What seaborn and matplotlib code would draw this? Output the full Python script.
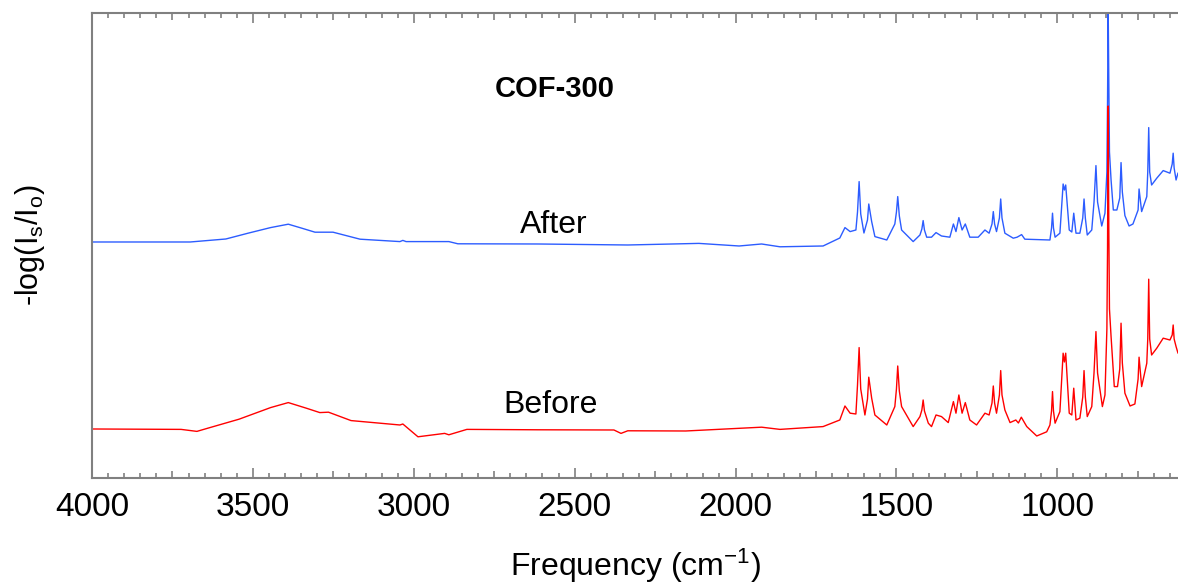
import numpy as np
import pandas as pd
import matplotlib
matplotlib.use('Agg')
import matplotlib.pyplot as plt
from matplotlib.ticker import MultipleLocator, FuncFormatter
import seaborn as sns

# IR spectrum of COF-300 (wavenumber in cm-1, -log(Is/Io) in arb. units)
after_wn = [4000, 3695, 3584, 3515, 3445, 3390, 3348, 3307, 3251, 3167, 3043, 3034, 3024, 2891, 2863,
            2614, 2335, 2114, 1989, 1919, 1862, 1728, 1676, 1660, 1644, 1626, 1621, 1616, 1611, 1601,
            1590, 1586, 1577, 1567, 1530, 1505, 1500, 1496, 1491, 1484, 1448, 1427, 1421, 1417, 1413,
            1406, 1391, 1377, 1360, 1334, 1323, 1315, 1306, 1296, 1286, 1272, 1246, 1225, 1212, 1203,
            1199, 1195, 1189, 1180, 1176, 1172, 1163, 1137, 1125, 1111, 1101, 1023, 1018, 1015, 1012,
            1007, 992, 982, 978, 974, 963, 955, 949, 942, 930, 921, 917, 913, 907, 893,
            886, 880, 875, 862, 852, 846, 844, 842, 840, 838, 833, 826, 815, 806, 802,
            798, 790, 777, 765, 749, 746, 738, 722, 719, 716, 713, 707, 691, 671, 650,
            643, 640, 637, 631, 625]
after_abs = [0.000, 0.000, 0.015, 0.044, 0.072, 0.089, 0.069, 0.049, 0.049, 0.014, 0.002, 0.008, 0.002, 0.002, -0.009,
             -0.010, -0.015, -0.007, -0.020, -0.010, -0.024, -0.020, 0.020, 0.072, 0.052, 0.060, 0.150, 0.302, 0.140, 0.045,
             0.110, 0.190, 0.102, 0.027, 0.010, 0.090, 0.150, 0.227, 0.130, 0.060, 0.002, 0.035, 0.065, 0.107, 0.060,
             0.024, 0.024, 0.047, 0.030, 0.024, 0.090, 0.052, 0.122, 0.060, 0.090, 0.024, 0.024, 0.060, 0.044, 0.090,
             0.152, 0.090, 0.052, 0.120, 0.215, 0.120, 0.044, 0.019, 0.024, 0.037, 0.014, 0.010, 0.070, 0.144, 0.070,
             0.024, 0.044, 0.290, 0.260, 0.285, 0.060, 0.050, 0.144, 0.044, 0.044, 0.120, 0.215, 0.120, 0.035, 0.060,
             0.200, 0.382, 0.200, 0.080, 0.144, 0.350, 0.700, 1.170, 0.800, 0.450, 0.310, 0.160, 0.160, 0.220, 0.397,
             0.250, 0.132, 0.080, 0.090, 0.160, 0.265, 0.152, 0.227, 0.350, 0.572, 0.350, 0.285, 0.319, 0.357, 0.344,
             0.390, 0.444, 0.370, 0.310, 0.345]

before_wn = [4000, 3723, 3674, 3640, 3543, 3445, 3390, 3334, 3292, 3265, 3195, 3043, 3034, 2987, 2904,
             2891, 2835, 2614, 2378, 2356, 2335, 2155, 1919, 1862, 1728, 1676, 1660, 1644, 1626, 1621,
             1616, 1611, 1598, 1590, 1586, 1577, 1567, 1530, 1505, 1500, 1496, 1491, 1484, 1448, 1427,
             1421, 1417, 1413, 1401, 1391, 1377, 1360, 1339, 1323, 1315, 1306, 1296, 1286, 1272, 1251,
             1225, 1212, 1203, 1199, 1195, 1189, 1180, 1176, 1172, 1163, 1147, 1129, 1121, 1112, 1095,
             1064, 1033, 1023, 1018, 1015, 1012, 1007, 992, 982, 978, 974, 963, 955, 949, 942,
             930, 921, 917, 913, 907, 893, 886, 880, 875, 860, 852, 846, 844, 842, 840,
             838, 833, 823, 813, 806, 802, 798, 790, 774, 759, 752, 749, 746, 738, 722,
             719, 716, 713, 707, 691, 671, 650, 643, 640, 637, 631, 625]
before_abs = [0.000, -0.002, -0.012, 0.004, 0.049, 0.107, 0.132, 0.104, 0.082, 0.084, 0.042, 0.020, 0.025, -0.039, -0.022,
              -0.029, -0.002, -0.004, -0.005, -0.022, -0.009, -0.010, 0.009, -0.002, 0.012, 0.045, 0.115, 0.079, 0.075, 0.220,
              0.407, 0.200, 0.070, 0.150, 0.259, 0.154, 0.070, 0.020, 0.112, 0.200, 0.315, 0.190, 0.112, 0.012, 0.062,
              0.095, 0.145, 0.090, 0.029, 0.012, 0.070, 0.062, 0.032, 0.137, 0.079, 0.170, 0.079, 0.132, 0.045, 0.020,
              0.079, 0.070, 0.130, 0.215, 0.130, 0.079, 0.170, 0.292, 0.170, 0.095, 0.032, 0.045, 0.030, 0.059, 0.012,
              -0.035, -0.014, 0.020, 0.090, 0.187, 0.090, 0.029, 0.087, 0.379, 0.335, 0.379, 0.079, 0.070, 0.204, 0.045,
              0.054, 0.160, 0.292, 0.160, 0.062, 0.112, 0.280, 0.487, 0.280, 0.112, 0.170, 0.500, 0.900, 1.615, 1.000,
              0.600, 0.462, 0.212, 0.212, 0.300, 0.529, 0.330, 0.179, 0.115, 0.125, 0.212, 0.250, 0.359, 0.212, 0.329,
              0.450, 0.749, 0.450, 0.370, 0.404, 0.454, 0.445, 0.470, 0.520, 0.450, 0.412, 0.379]

after_offset = 1.18
before_offset = 0.245
x_labels = [4000, 3500, 3000, 2500, 2000, 1500, 1000]

after_df = pd.DataFrame({'wn': after_wn, 'a': np.array(after_abs) + after_offset})
before_df = pd.DataFrame({'wn': before_wn, 'a': np.array(before_abs) + before_offset})

sns.set_style('white')
plt.rcParams['font.family'] = ['Liberation Sans', 'DejaVu Sans']
plt.rcParams['mathtext.fontset'] = 'custom'
plt.rcParams['mathtext.rm'] = 'Liberation Sans'
plt.rcParams['mathtext.it'] = 'Liberation Sans'
plt.rcParams['text.color'] = 'black'
plt.rcParams['axes.labelcolor'] = 'black'

fig = plt.figure(figsize=(11.78, 5.88), dpi=100)
ax = fig.add_axes([0.0781, 0.1871, 0.9219, 0.7908])

sns.lineplot(data=after_df, x='wn', y='a', color='#2c5cff', lw=1.0, estimator=None, sort=False, ax=ax)
sns.lineplot(data=before_df, x='wn', y='a', color='#ff0000', lw=1.0, estimator=None, sort=False, ax=ax)

ax.set_xlim(4000, 625)
ax.set_ylim(0, 2.325)
ax.set_yticks([])

ax.text(2564, 1.2265, 'After', fontsize=23, ha='center', va='baseline')
ax.text(2574, 0.3265, 'Before', fontsize=23, ha='center', va='baseline')
ax.text(2561, 1.905, 'COF-300', fontsize=21, fontweight='bold', ha='center', va='baseline')

# ticks: labelled every 500, mid tick every 250, small ones every 50
ax.xaxis.set_major_locator(MultipleLocator(250))
ax.xaxis.set_minor_locator(MultipleLocator(50))
ax.xaxis.set_major_formatter(FuncFormatter(lambda v, p: str(int(v)) if int(v) in x_labels else ''))
ax.tick_params(axis='x', which='both', direction='in', top=True, bottom=True,
               color='#808080', width=1.2, labelsize=24, labelcolor='black', pad=10)
ax.tick_params(axis='x', which='major', length=7.5)
ax.tick_params(axis='x', which='minor', length=3.3)
for t, loc in zip(ax.xaxis.get_major_ticks(), ax.xaxis.get_majorticklocs()):
    if int(loc) % 500 != 0:
        t.tick1line.set_markersize(5)
        t.tick2line.set_markersize(5)

for s in ['left', 'top', 'bottom']:
    ax.spines[s].set_color('#808080')
    ax.spines[s].set_linewidth(1.5)
ax.spines['right'].set_visible(False)

ax.set_xlabel(r'Frequency (cm$^{\mathregular{-1}}$)', fontsize=23)
ax.set_ylabel(r'-log(I$_{\mathregular{s}}$/I$_{\mathregular{o}}$)', fontsize=22)
ax.xaxis.set_label_coords(0.5, -0.148)
ax.yaxis.set_label_coords(-0.041, 0.5)

fig.savefig('out.png', dpi=100)
